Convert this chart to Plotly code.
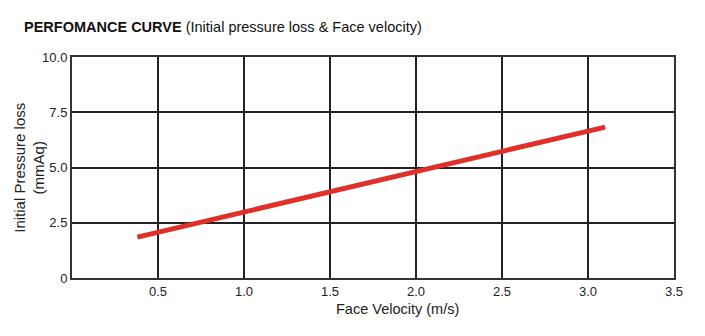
import plotly.graph_objects as go

# Performance curve: initial pressure loss vs. face velocity
face_velocity = [0.38, 1.0, 1.5, 2.0, 2.5, 3.1]
pressure_loss = [1.85, 2.98, 3.9, 4.82, 5.73, 6.83]

x_ticks = [0.5, 1.0, 1.5, 2.0, 2.5, 3.0, 3.5]
x_tick_text = ["0.5", "1.0", "1.5", "2.0", "2.5", "3.0", "3.5"]
y_ticks = [0, 2.5, 5.0, 7.5, 10.0]
y_tick_text = ["0", "2.5", "5.0", "7.5", "10.0"]

sans = "Liberation Sans, Arial, sans-serif"

fig = go.Figure()
fig.add_trace(go.Scatter(
    x=face_velocity, y=pressure_loss, mode="lines",
    line=dict(color="#e0302a", width=5),
    hoverinfo="skip", showlegend=False,
))

fig.update_layout(
    width=705, height=336,
    margin=dict(l=72, r=31, t=57, b=58),
    paper_bgcolor="white", plot_bgcolor="white",
    font=dict(family=sans, color="#222", size=14),
    annotations=[
        dict(
            text="<b>PERFOMANCE CURVE</b> (Initial pressure loss &amp; Face velocity)",
            xref="paper", yref="paper", x=-0.083, y=1.136,
            xanchor="left", yanchor="middle", showarrow=False,
            font=dict(family=sans, size=14.5, color="#111"),
        ),
        dict(
            text="Initial Pressure loss<br>(mmAq)",
            xref="paper", yref="paper", x=-0.071, y=0.5,
            xanchor="center", yanchor="middle", textangle=-90, showarrow=False,
            font=dict(family=sans, size=15, color="#222"),
        ),
        dict(
            text="Face Velocity (m/s)",
            xref="paper", yref="paper", x=0.541, y=-0.14,
            xanchor="center", yanchor="middle", showarrow=False,
            font=dict(family=sans, size=14.5, color="#222"),
        ),
    ],
)

fig.update_xaxes(
    range=[0, 3.5], tickvals=x_ticks, ticktext=x_tick_text,
    showgrid=True, gridcolor="#222", gridwidth=2,
    showline=True, linecolor="#333", linewidth=2, mirror=True,
    ticks="", ticklabelstandoff=0, zeroline=False,
    tickfont=dict(family=sans, size=13, color="#222"),
)
fig.update_yaxes(
    range=[0, 10], tickvals=y_ticks, ticktext=y_tick_text,
    showgrid=True, gridcolor="#222", gridwidth=2,
    showline=True, linecolor="#333", linewidth=2, mirror=True,
    ticks="", ticklabelstandoff=0, zeroline=False,
    tickfont=dict(family=sans, size=13, color="#222"),
)

fig.write_html("out.html")
